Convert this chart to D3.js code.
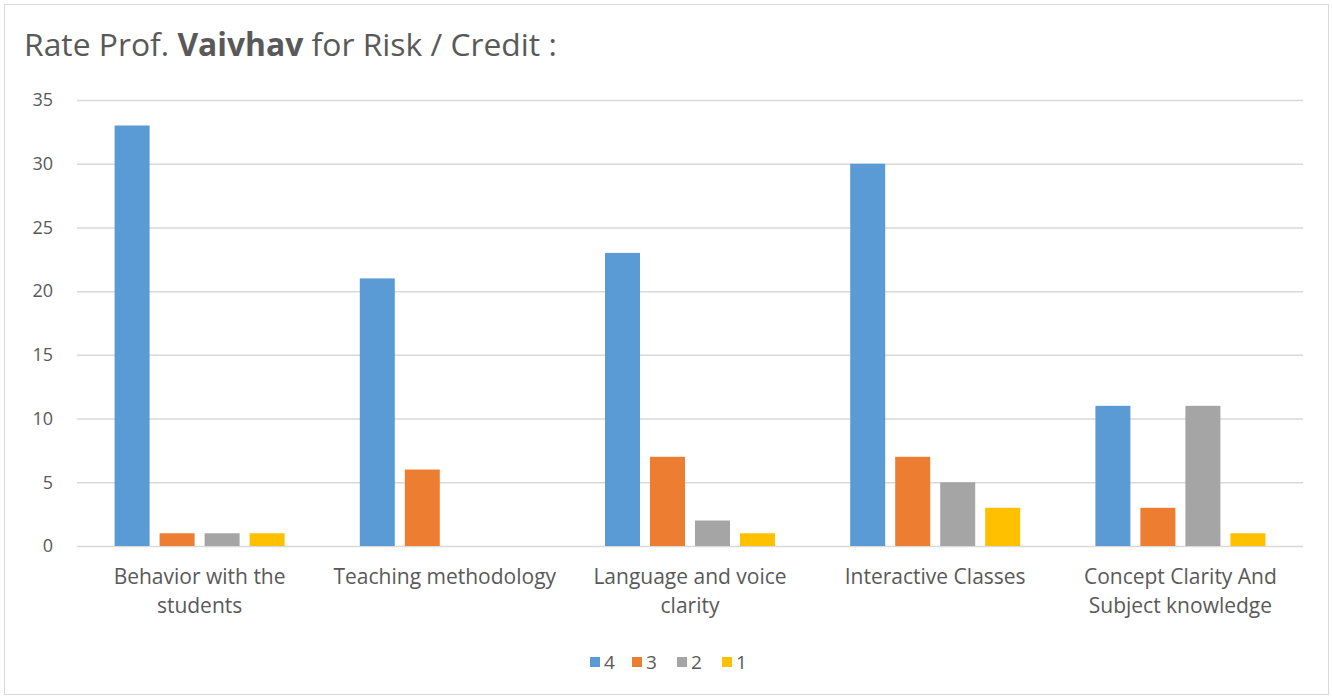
<!DOCTYPE html>
<html><head><meta charset="utf-8">
<script src="https://cdn.jsdelivr.net/npm/d3@7"></script>
<style>body{margin:0;background:#fff;} svg{display:block;font-family:"Open Sans",sans-serif;}</style>
</head><body><svg id="c" width="1332" height="698"></svg>
<script>
const categories = ["Behavior with the\nstudents","Teaching methodology","Language and voice\nclarity","Interactive Classes","Concept Clarity And\nSubject knowledge"];
const seriesNames = ["4","3","2","1"];
const s4 = [33,21,23,30,11];
const s3 = [1,6,7,7,3];
const s2 = [1,0,2,5,11];
const s1 = [1,0,1,3,1];
const seriesValues = [s4,s3,s2,s1];
const colors = ["#5b9bd5","#ed7d31","#a5a5a5","#ffc000"];
const yTicks = [0,5,10,15,20,25,30,35];

(function(){
const svg = d3.select("#c");
svg.append("rect").attr("x",4.5).attr("y",4.5).attr("width",1324).attr("height",690)
  .attr("fill","#fff").attr("stroke","#d9d9d9").attr("stroke-width",1);

const pL=77,pR=1303,pT=100,pB=546;
const x0 = d3.scaleBand().domain(categories).range([pL,pR]).padding(0);
const groupW = 170;
const x1 = d3.scaleBand().domain(seriesNames).range([(x0.bandwidth()-groupW)/2,(x0.bandwidth()+groupW)/2]).paddingInner(10/45).paddingOuter(0);
const y = d3.scaleLinear().domain([0,35]).range([pB,pT]);

svg.append("g").selectAll("line").data(yTicks).join("line")
  .attr("x1",pL).attr("x2",pR).attr("y1",d=>y(d)+0.5).attr("y2",d=>y(d)+0.5)
  .attr("stroke","#d9d9d9").attr("stroke-width",1.5);

svg.append("g").selectAll("text").data(yTicks).join("text")
  .attr("x",53).attr("y",d=>y(d)).attr("dy","0.35em").attr("text-anchor","end")
  .attr("fill","#595959").attr("font-size",18).text(d=>d);

const groups = svg.append("g").selectAll("g").data(categories).join("g")
  .attr("transform",d=>`translate(${x0(d)},0)`);
groups.selectAll("rect").data((c,i)=>seriesNames.map((s,j)=>({s,j,v:seriesValues[j][i]})).filter(d=>d.v>0))
  .join("rect")
  .attr("x",d=>x1(d.s)).attr("width",x1.bandwidth())
  .attr("y",d=>y(d.v)).attr("height",d=>y(0)-y(d.v))
  .attr("fill",d=>colors[d.j]);

const catG = svg.append("g");
categories.forEach(c=>{
  const lines=c.split("\n");
  const t=catG.append("text").attr("class","cat").attr("text-anchor","middle").attr("fill","#595959").attr("font-size",18);
  lines.forEach((l,i)=>t.append("tspan").attr("x",x0(c)+x0.bandwidth()/2).attr("y",584+i*29).text(l));
});
{
  const tmp = svg.append("text").attr("font-size",18).text("Behavior with the");
  const w = tmp.node().getComputedTextLength(); tmp.remove();
  const fs = 18*172/w;
  catG.selectAll("text").attr("font-size",fs);
}

const title = svg.append("text").attr("x",24).attr("y",56).attr("fill","#595959").attr("font-size",27);
title.append("tspan").text("Rate Prof. ");
title.append("tspan").attr("font-weight","bold").text("Vaivhav");
title.append("tspan").text(" for Risk / Credit :");
{
  const w = title.node().getComputedTextLength();
  title.attr("font-size",27*533/w);
}

const legX=[590,632,677,722];
const leg = svg.append("g");
seriesNames.forEach((s,i)=>{
  leg.append("rect").attr("x",legX[i]).attr("y",657).attr("width",10).attr("height",10).attr("fill",colors[i]);
  leg.append("text").attr("x",legX[i]+14).attr("y",662).attr("dy","0.35em").attr("fill","#595959").attr("font-size",19).text(s);
});
})();
</script></body></html>
